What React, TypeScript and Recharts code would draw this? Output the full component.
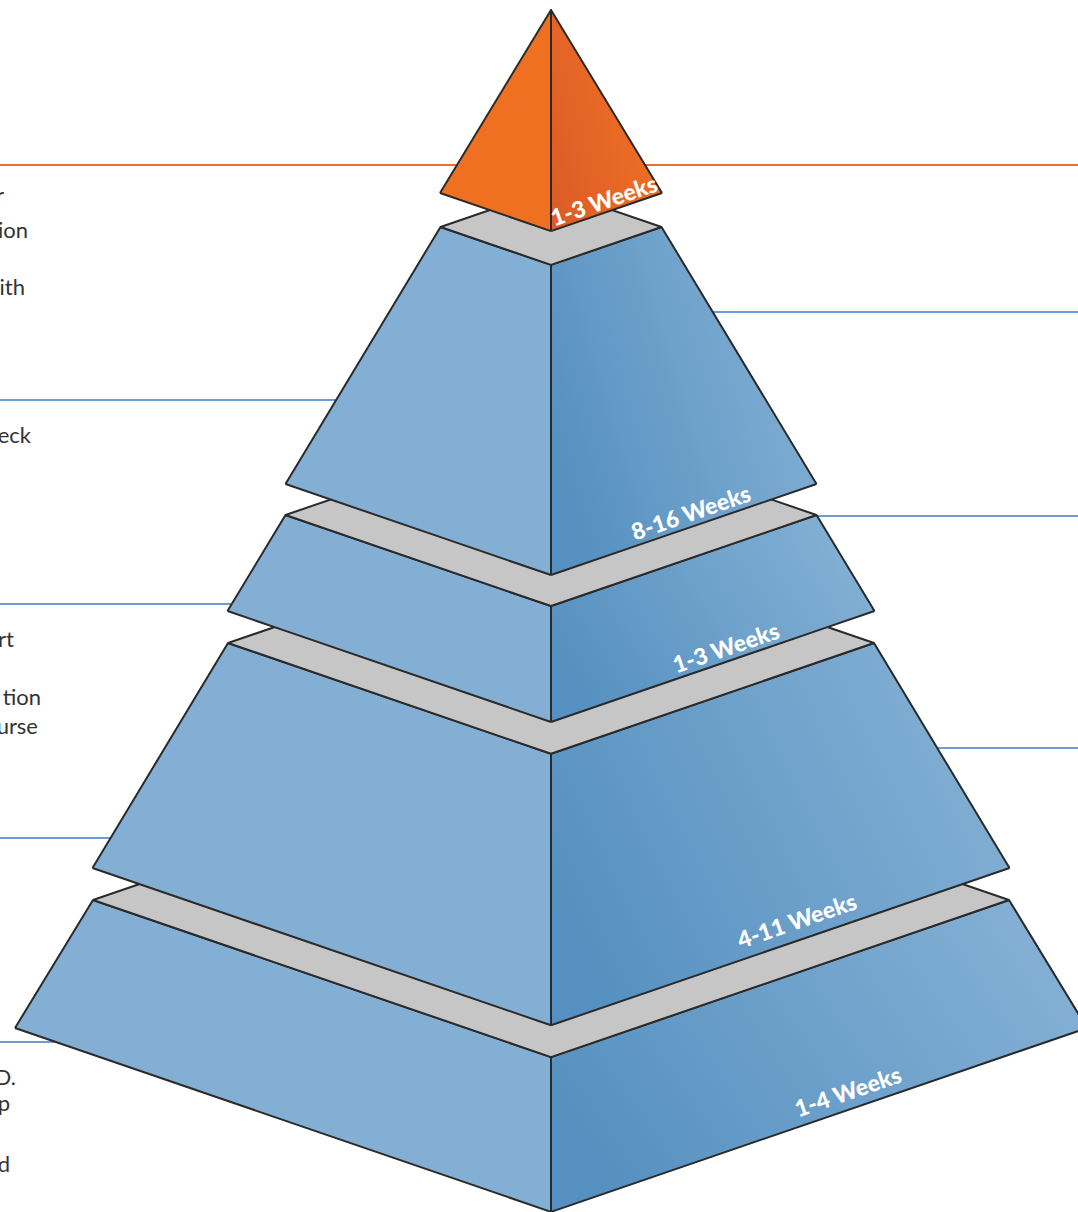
import { Area, ComposedChart, Scatter, XAxis, YAxis } from "recharts";

const W = 1078;
const H = 1212;
const CX = 551;
const DEPTH = 0.343;

// tiers, top (apex) to bottom
const tierLabels = ["1-3 Weeks", "8-16 Weeks", "1-3 Weeks", "4-11 Weeks", "1-4 Weeks"];
const tierTopY = [10, 227, 515, 643, 900];
const tierTopHalf = [0, 110.5, 265.5, 323, 458];
const tierBaseY = [193, 484, 611, 868, 1028];
const tierBaseHalf = [111, 265.5, 323.5, 458.5, 536];
const tierLabelX = [604, 691, 726, 797, 848];
const tierLabelY = [201, 513, 648, 921, 1092];

// guide lines behind the pyramid
const leftGuideY = [400, 604, 838, 1042];
const rightGuideY = [312, 516, 748];
const apexGuideY = 165;

// clipped side notes
const noteText = ["r", "ion", "ith", "eck", "rt", "tion", "urse", "D.", "p", "d"];
const noteRight = [4, 28, 25, 31, 14, 41, 38, 16, 10, 10];
const noteBase = [203, 238, 295, 443, 647, 705, 734, 1085, 1111, 1172];

type Pt = { x: number; v: [number, number] };

function tierFaces(i: number) {
  const tY = tierTopY[i];
  const tH = tierTopHalf[i];
  const bY = tierBaseY[i];
  const bH = tierBaseHalf[i];
  const tF = tY + tH * DEPTH;
  const bF = bY + bH * DEPTH;
  const mid = bY + (bH - tH) * DEPTH;

  const left: Pt[] = [{ x: CX - bH, v: [bY, bY] }];
  if (tH > 0) left.push({ x: CX - tH, v: [mid, tY] });
  left.push({ x: CX, v: [bF, tF] }, { x: CX, v: [bF, bF] });

  const right: Pt[] = [
    { x: CX, v: [bF, bF] },
    { x: CX, v: [bF, tF] },
  ];
  if (tH > 0) right.push({ x: CX + tH, v: [mid, tY] });
  right.push({ x: CX + bH, v: [bY, bY] });

  const top: Pt[] | null =
    tH > 0
      ? [
          { x: CX - tH, v: [tY, tY] },
          { x: CX, v: [tF, tY - tH * DEPTH] },
          { x: CX + tH, v: [tY, tY] },
        ]
      : null;
  return { left, right, top };
}

const guides = [
  { color: "#f07022", data: [{ x: 0, v: [apexGuideY, apexGuideY] }, { x: W, v: [apexGuideY, apexGuideY] }] },
  ...leftGuideY.map((y) => ({ color: "#6f9ccf", data: [{ x: 0, v: [y, y] }, { x: CX, v: [y, y] }] })),
  ...rightGuideY.map((y) => ({ color: "#6f9ccf", data: [{ x: CX, v: [y, y] }, { x: W, v: [y, y] }] })),
];

const labels = tierLabels.map((t, i) => ({ x: tierLabelX[i], y: tierLabelY[i], text: t }));
const notes = noteText.map((t, i) => ({ x: noteRight[i], y: noteBase[i], text: t }));

const ANGLE = -18.9;

const LabelShape = (p: any) => (
  <text
    x={p.cx}
    y={p.cy}
    dy="0.35em"
    textAnchor="middle"
    transform={`rotate(${ANGLE} ${p.cx} ${p.cy})`}
    fill="#fff"
    fontFamily="Lato, sans-serif"
    fontWeight={900}
    fontSize={23}
  >
    {p.payload.text}
  </text>
);

const NoteShape = (p: any) => (
  <text
    x={p.cx}
    y={p.cy}
    textAnchor="end"
    fill="#333"
    fontFamily="Lato, sans-serif"
    fontSize={22}
  >
    {p.payload.text}
  </text>
);

export default function App() {
  const order = [4, 3, 2, 1, 0];
  return (
    <div style={{ position: "absolute", left: 0, top: 0, width: W, height: H, background: "#fff" }}>
      <ComposedChart width={W} height={H} margin={{ top: 0, right: 0, bottom: 0, left: 0 }}>
        <defs>
          <linearGradient id="blueRight" x1="0" y1="0.7" x2="1" y2="0.3">
            <stop offset="0%" stopColor="#5590c0" />
            <stop offset="100%" stopColor="#84b0d4" />
          </linearGradient>
          <linearGradient id="orangeRight" x1="0" y1="0.8" x2="1" y2="0.2">
            <stop offset="0%" stopColor="#de5c27" />
            <stop offset="100%" stopColor="#f27424" />
          </linearGradient>
        </defs>
        <XAxis type="number" dataKey="x" domain={[0, W]} hide allowDataOverflow />
        <YAxis type="number" dataKey="y" domain={[0, H]} reversed hide allowDataOverflow />

        {guides.map((g, i) => (
          <Area
            key={`guide-${i}`}
            data={g.data}
            dataKey="v"
            type="linear"
            stroke={g.color}
            strokeWidth={2}
            fill="none"
            dot={false}
            activeDot={false}
            isAnimationActive={false}
          />
        ))}

        {order.map((i) => {
          const f = tierFaces(i);
          const apex = i === 0;
          const common = {
            dataKey: "v",
            type: "linear" as const,
            stroke: "#2a2a2a",
            strokeWidth: 2,
            strokeLinejoin: "round" as const,
            fillOpacity: 1,
            dot: false,
            activeDot: false,
            isAnimationActive: false,
          };
          return [
            <Area key={`l-${i}`} {...common} data={f.left} fill={apex ? "#f07022" : "#82afd3"} />,
            <Area key={`r-${i}`} {...common} data={f.right} fill={apex ? "url(#orangeRight)" : "url(#blueRight)"} />,
            f.top ? <Area key={`t-${i}`} {...common} data={f.top} fill="#c6c6c6" /> : null,
          ];
        })}

        <Scatter data={labels} shape={LabelShape} isAnimationActive={false} />
        <Scatter data={notes} shape={NoteShape} isAnimationActive={false} />
      </ComposedChart>
    </div>
  );
}
